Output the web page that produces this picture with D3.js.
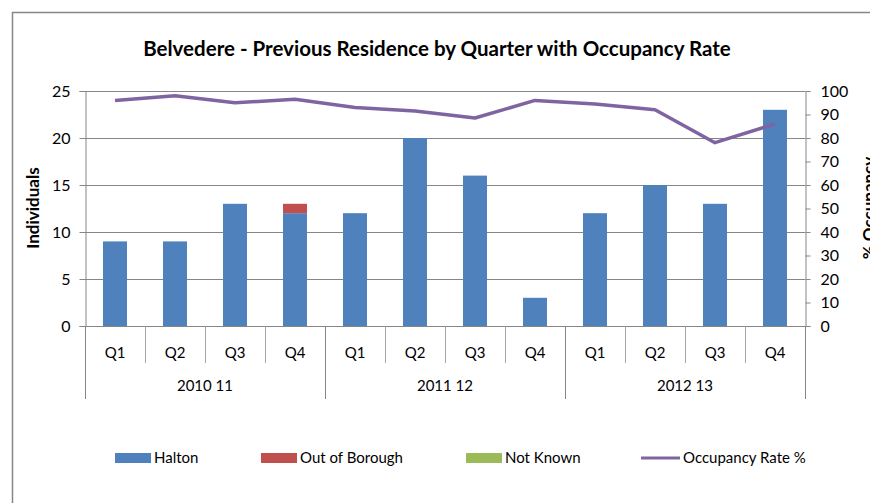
<!DOCTYPE html>
<html>
<head>
<meta charset="utf-8">
<script src="https://cdn.jsdelivr.net/npm/d3@7"></script>
<style>
  body { margin: 0; background: #fff; }
  svg text { font-family: Lato, "Liberation Sans", sans-serif; fill: #000; }
</style>
</head>
<body>
<div id="chart"></div>
<script>
// chart data
var years = ['2010 11', '2011 12', '2012 13'];
var quarters = ['Q1', 'Q2', 'Q3', 'Q4'];
var halton = [9, 9, 13, 12, 12, 20, 16, 3, 12, 15, 13, 23];
var outOfBorough = [0, 0, 0, 1, 0, 0, 0, 0, 0, 0, 0, 0];
var notKnown = [0, 0, 0, 0, 0, 0, 0, 0, 0, 0, 0, 0];
var occupancy = [96, 98, 95, 96.5, 93, 91.5, 88.5, 96, 94.5, 92, 78, 86];
var leftTicks = [0, 5, 10, 15, 20, 25];
var rightTicks = [0, 10, 20, 30, 40, 50, 60, 70, 80, 90, 100];

var seriesNames = ['Halton', 'Out of Borough', 'Not Known'];
var seriesColors = ['#4F81BD', '#C0504D', '#9BBB59'];
var lineColor = '#8064A2';

var W = 870, H = 503;
var margin = {top: 91, right: 65, bottom: 177, left: 85};
var plotW = W - margin.left - margin.right;
var plotH = H - margin.top - margin.bottom;

// one row per quarter
var cats = [];
years.forEach(function (y) {
    quarters.forEach(function (q) { cats.push(y + '|' + q); });
});
var table = cats.map(function (c, i) {
    return {cat: c, 'Halton': halton[i], 'Out of Borough': outOfBorough[i], 'Not Known': notKnown[i], occ: occupancy[i]};
});

var svg = d3.select('#chart').append('svg')
    .attr('width', W)
    .attr('height', H);

// outer frame (runs off the right and bottom of the picture)
svg.append('rect')
    .attr('x', 12.5).attr('y', 12.5)
    .attr('width', W + 20).attr('height', H + 20)
    .attr('fill', 'none')
    .attr('stroke', '#868686')
    .attr('stroke-width', 1.5);

svg.append('text')
    .attr('x', 437).attr('y', 56)
    .attr('text-anchor', 'middle')
    .style('font-size', '20.5px')
    .style('font-weight', 'bold')
    .text('Belvedere - Previous Residence by Quarter with Occupancy Rate');

var g = svg.append('g')
    .attr('transform', 'translate(' + margin.left + ',' + margin.top + ')');

var xCat = d3.scaleBand().domain(cats).range([0, plotW]);
var xBar = d3.scaleBand().domain(cats).range([0, plotW]).paddingInner(0.6).paddingOuter(0.3);
var xYear = d3.scaleBand().domain(years).range([0, plotW]);
var yLeft = d3.scaleLinear().domain([0, 25]).range([plotH, 0]);
var yRight = d3.scaleLinear().domain([0, 100]).range([plotH, 0]);

// gridlines
g.append('g')
    .selectAll('line')
    .data(leftTicks.filter(function (d) { return d > 0; }))
    .enter().append('line')
    .attr('x1', 0).attr('x2', plotW)
    .attr('y1', function (d) { return Math.round(yLeft(d)) + 0.5; })
    .attr('y2', function (d) { return Math.round(yLeft(d)) + 0.5; })
    .attr('stroke', '#868686');

// left axis
var leftAxis = g.append('g')
    .attr('transform', 'translate(0.5,0)')
    .call(d3.axisLeft(yLeft).tickValues(leftTicks).tickSize(6).tickPadding(9));
leftAxis.select('.domain').attr('stroke', '#868686');
leftAxis.selectAll('.tick line').attr('stroke', '#868686');
leftAxis.selectAll('text').style('font-size', '16px').style('font-family', 'Lato, sans-serif');

// right axis
var rightAxis = g.append('g')
    .attr('transform', 'translate(' + (plotW + 0.5) + ',0)')
    .call(d3.axisRight(yRight).tickValues(rightTicks).tickSize(5).tickPadding(10));
rightAxis.select('.domain').attr('stroke', '#868686');
rightAxis.selectAll('.tick line').attr('stroke', '#868686');
rightAxis.selectAll('text').style('font-size', '16px').style('font-family', 'Lato, sans-serif');

// stacked bars
var stacked = d3.stack().keys(seriesNames)(table);
g.append('g')
    .selectAll('g')
    .data(stacked)
    .enter().append('g')
    .attr('fill', function (d, i) { return seriesColors[i]; })
    .selectAll('rect')
    .data(function (d) { return d; })
    .enter().append('rect')
    .attr('x', function (d) { return xBar(d.data.cat); })
    .attr('width', xBar.bandwidth())
    .attr('y', function (d) { return yLeft(d[1]); })
    .attr('height', function (d) { return yLeft(d[0]) - yLeft(d[1]); });

// category axis
g.append('line')
    .attr('x1', 0).attr('x2', plotW)
    .attr('y1', plotH + 0.5).attr('y2', plotH + 0.5)
    .attr('stroke', '#868686');

g.append('g')
    .selectAll('line')
    .data(cats.filter(function (c, i) { return i % 4 !== 0; }))
    .enter().append('line')
    .attr('x1', function (d) { return Math.round(xCat(d)) + 0.5; })
    .attr('x2', function (d) { return Math.round(xCat(d)) + 0.5; })
    .attr('y1', plotH).attr('y2', plotH + 37)
    .attr('stroke', '#a6a6a6');

g.append('g')
    .selectAll('line')
    .data(years.concat(['end']))
    .enter().append('line')
    .attr('x1', function (d) { return d === 'end' ? plotW + 0.5 : Math.round(xYear(d)) + 0.5; })
    .attr('x2', function (d) { return d === 'end' ? plotW + 0.5 : Math.round(xYear(d)) + 0.5; })
    .attr('y1', plotH).attr('y2', plotH + 73)
    .attr('stroke', '#868686');

g.append('g')
    .selectAll('text')
    .data(cats)
    .enter().append('text')
    .attr('x', function (d) { return xCat(d) + xCat.bandwidth() / 2; })
    .attr('y', plotH + 32)
    .attr('text-anchor', 'middle')
    .style('font-size', '15px')
    .text(function (d) { return d.split('|')[1]; });

g.append('g')
    .selectAll('text')
    .data(years)
    .enter().append('text')
    .attr('x', function (d) { return xYear(d) + xYear.bandwidth() / 2; })
    .attr('y', plotH + 65)
    .attr('text-anchor', 'middle')
    .style('font-size', '15px')
    .text(function (d) { return d; });

// occupancy line
var line = d3.line()
    .x(function (d) { return xCat(d.cat) + xCat.bandwidth() / 2; })
    .y(function (d) { return yRight(d.occ); });
g.append('path')
    .datum(table)
    .attr('d', line)
    .attr('fill', 'none')
    .attr('stroke', lineColor)
    .attr('stroke-width', 3.5)
    .attr('stroke-linejoin', 'round');

// axis titles
svg.append('text')
    .attr('transform', 'translate(39,208) rotate(-90)')
    .attr('text-anchor', 'middle')
    .style('font-size', '17px')
    .style('font-weight', 'bold')
    .text('Individuals');

svg.append('text')
    .attr('transform', 'translate(875,208) rotate(-90)')
    .attr('text-anchor', 'middle')
    .style('font-size', '17px')
    .style('font-weight', 'bold')
    .text('% Occupancy');

// legend
var legendX = [115, 261, 466];
var legend = svg.append('g');
seriesNames.forEach(function (name, i) {
    legend.append('rect')
        .attr('x', legendX[i]).attr('y', 453)
        .attr('width', 36).attr('height', 10)
        .attr('fill', seriesColors[i]);
    legend.append('text')
        .attr('x', legendX[i] + 39).attr('y', 463)
        .style('font-size', '15px')
        .text(name);
});
legend.append('line')
    .attr('x1', 641).attr('x2', 680)
    .attr('y1', 458).attr('y2', 458)
    .attr('stroke', lineColor)
    .attr('stroke-width', 3);
legend.append('text')
    .attr('x', 683).attr('y', 463)
    .style('font-size', '15px')
    .text('Occupancy Rate %');
</script>
</body>
</html>
